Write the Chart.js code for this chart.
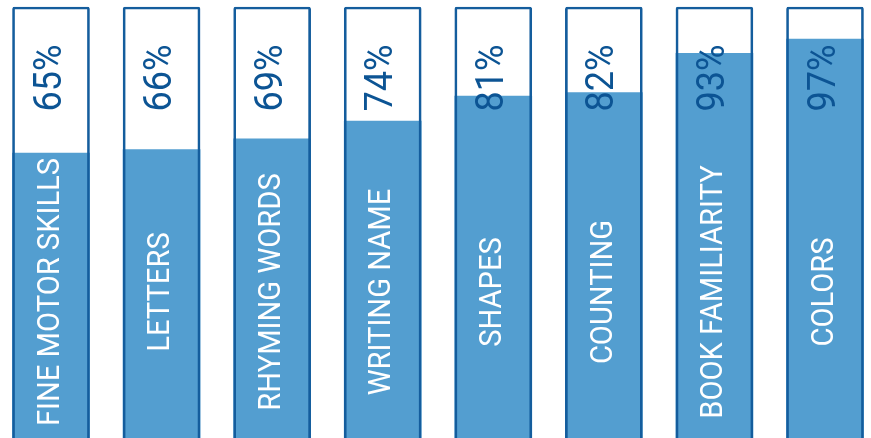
<!DOCTYPE html>
<html>
<head>
<meta charset="utf-8">
<script src="https://cdn.jsdelivr.net/npm/chart.js@4"></script>
<style>
  html, body { margin: 0; padding: 0; background: #fff; }
  #wrap { width: 871px; height: 438px; }
</style>
</head>
<body>
<div id="wrap"><canvas id="chartSkills"></canvas></div>
<script>
// datos
const categories = ["FINE MOTOR SKILLS", "LETTERS", "RHYMING WORDS", "WRITING NAME", "SHAPES", "COUNTING", "BOOK FAMILIARITY", "COLORS"];
const percentValues = [65, 66, 69, 74, 81, 82, 93, 97];
const percentLabels = ["65%", "66%", "69%", "74%", "81%", "82%", "93%", "97%"];
const scaleMin = -15;
const scaleMax = 106;

function drawVertical(ctx, text, x, y, font, color, squeeze) {
  ctx.save();
  ctx.translate(x, y);
  ctx.rotate(-Math.PI / 2);
  ctx.scale(squeeze, 1);
  ctx.font = font;
  ctx.fillStyle = color;
  ctx.textAlign = "center";
  ctx.textBaseline = "middle";
  ctx.fillText(text, 0, 0);
  ctx.restore();
}

const barLabels = {
  id: "barLabels",
  afterDatasetsDraw(chart) {
    const ctx = chart.ctx;
    const area = chart.chartArea;
    const bars = chart.getDatasetMeta(1).data;
    bars.forEach((bar, i) => {
      drawVertical(ctx, percentLabels[i], bar.x, area.top + 71, "38px Roboto", "#0c5494", 0.95);
      drawVertical(ctx, categories[i], bar.x, area.bottom - 146, "31px Roboto", "#ffffff", 0.94);
    });
  },
};

new Chart(document.getElementById("chartSkills"), {
  type: "bar",
  data: {
    labels: categories,
    datasets: [
      {
        // marco de cada barra (100%)
        data: categories.map(() => scaleMax),
        base: scaleMin,
        backgroundColor: "rgba(0,0,0,0)",
        borderColor: "#145d9d",
        borderWidth: 2,
        borderSkipped: "bottom",
        borderRadius: 2,
        grouped: false,
        barThickness: 77,
        clip: false,
      },
      {
        data: percentValues,
        base: scaleMin,
        backgroundColor: "#539ed0",
        borderWidth: 0,
        grouped: false,
        barThickness: 77,
        clip: false,
      },
    ],
  },
  options: {
    responsive: true,
    maintainAspectRatio: false,
    animation: false,
    layout: { padding: { left: 51, right: 46, top: 7, bottom: 0 } },
    plugins: {
      legend: { display: false },
      tooltip: { enabled: false },
    },
    scales: {
      x: { display: false, offset: false },
      y: { display: false, min: scaleMin, max: scaleMax },
    },
  },
  plugins: [barLabels],
});
</script>
</body>
</html>
